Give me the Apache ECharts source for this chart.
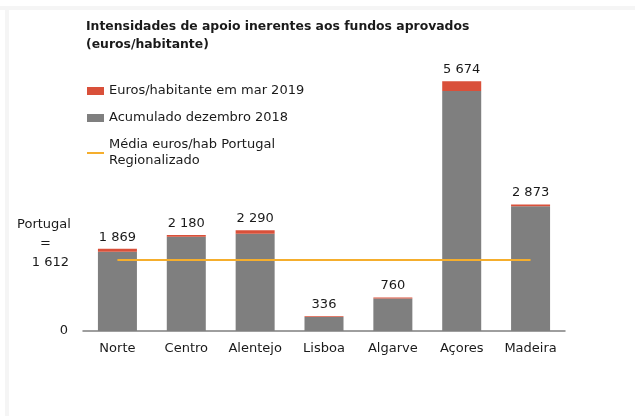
<!DOCTYPE html>
<html>
<head>
<meta charset="utf-8">
<script src="https://cdn.jsdelivr.net/npm/echarts@6/dist/echarts.min.js"></script>
<style>
  html, body { margin: 0; padding: 0; background: #fff; }
  #frameTop { position: absolute; left: 0; top: 6px; width: 635px; height: 4px; background: #f5f5f5; }
  #frameLeft { position: absolute; left: 5px; top: 6px; width: 4px; height: 410px; background: #f5f5f5; }
  #chart { position: absolute; left: 0; top: 0; width: 635px; height: 416px; }
</style>
</head>
<body>
<div id="frameTop"></div>
<div id="frameLeft"></div>
<div id="chart"></div>
<script>
const categories = ['Norte', 'Centro', 'Alentejo', 'Lisboa', 'Algarve', 'Açores', 'Madeira'];
const accumulatedDec2018 = [1799, 2140, 2210, 321, 740, 5454, 2838];
const increaseMar2019 = [70, 40, 80, 15, 20, 220, 35];
const totalMar2019 = [1869, 2180, 2290, 336, 760, 5674, 2873];
const portugalAverage = 1612;
const averageLine = categories.map(() => portugalAverage);
const yAxisTicks = [0, portugalAverage];

const fmt = v => String(v).replace(/\B(?=(\d{3})+(?!\d))/g, ' ');
const FONT = 'DejaVu Sans';
const TXT = '#1a1a1a';

const chart = echarts.init(document.getElementById('chart'), null, { renderer: 'canvas' });
chart.setOption({
  backgroundColor: 'transparent',
  animation: false,
  textStyle: { fontFamily: FONT, color: TXT },
  title: {
    text: 'Intensidades de apoio inerentes aos fundos aprovados\n(euros/habitante)',
    left: 81, top: 13,
    textStyle: { fontFamily: FONT, fontSize: 12.4, fontWeight: 'bold', color: TXT, lineHeight: 18 }
  },
  legend: {
    orient: 'vertical',
    left: 81, top: 78,
    itemWidth: 17, itemHeight: 8, itemGap: 11,
    selectedMode: false,
    textStyle: { fontFamily: FONT, fontSize: 13, color: TXT, lineHeight: 16 },
    data: [
      { name: 'Euros/habitante em mar 2019', icon: 'rect' },
      { name: 'Acumulado dezembro 2018', icon: 'rect' },
      { name: 'Média euros/hab Portugal\nRegionalizado', itemStyle: { opacity: 0 } }
    ]
  },
  grid: { left: 83, right: 70, top: 67, bottom: 85, containLabel: false },
  xAxis: {
    type: 'category',
    data: categories,
    axisLine: { lineStyle: { color: '#7f7f7f', width: 1.5 } },
    axisTick: { show: false },
    axisLabel: { interval: 0, fontFamily: FONT, fontSize: 13, color: TXT, margin: 11 }
  },
  yAxis: {
    type: 'value',
    min: 0, max: 6000,
    splitLine: { show: false },
    axisLine: { show: false },
    axisTick: { show: false },
    axisLabel: {
      customValues: yAxisTicks,
      margin: 10,
      fontFamily: FONT, fontSize: 13, color: TXT,
      formatter: v => v === portugalAverage
        ? '{p|Portugal}\n{r|=}\n{q|' + fmt(v) + '}\n{e| }\n{e| }'
        : '{z|' + fmt(v) + '}',
      rich: {
        p: { width: 54, align: 'center', fontFamily: FONT, fontSize: 13, lineHeight: 19, color: TXT },
        r: { width: 54, align: 'center', fontFamily: FONT, fontSize: 13, lineHeight: 19, color: TXT, padding: [0, 0, 0, 3] },
        q: { width: 54, align: 'right', fontFamily: FONT, fontSize: 13, lineHeight: 19, color: TXT, padding: [0, 4, 0, 0] },
        e: { width: 54, fontFamily: FONT, fontSize: 13, lineHeight: 16, color: TXT },
        z: { fontFamily: FONT, fontSize: 13, color: TXT, padding: [0, 5, 0, 0] }
      }
    }
  },
  series: [
    {
      name: 'Acumulado dezembro 2018',
      type: 'bar', stack: 'tot', barWidth: 39,
      itemStyle: { color: '#7f7f7f' },
      data: accumulatedDec2018
    },
    {
      name: 'Euros/habitante em mar 2019',
      type: 'bar', stack: 'tot', barWidth: 39,
      itemStyle: { color: '#d9503a' },
      label: {
        show: true, position: 'top', distance: 5,
        fontFamily: FONT, fontSize: 13, color: TXT,
        formatter: p => fmt(totalMar2019[p.dataIndex])
      },
      data: increaseMar2019
    },
    {
      name: 'Média euros/hab Portugal\nRegionalizado',
      type: 'line', symbol: 'none',
      lineStyle: { color: '#f5ae2d', width: 2 },
      itemStyle: { color: '#f5ae2d' },
      data: averageLine
    }
  ]
});
</script>
</body>
</html>
